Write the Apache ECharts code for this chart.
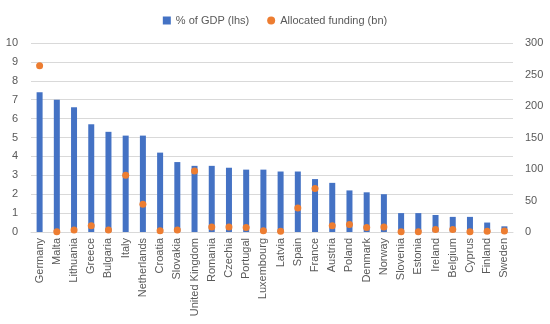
<!DOCTYPE html>
<html><head><meta charset="utf-8">
<script src="https://cdn.jsdelivr.net/npm/echarts@6/dist/echarts.min.js"></script>
<style>html,body{margin:0;padding:0;background:#fff}#c{width:550px;height:324px}</style>
</head><body><div id="c"></div>
<script>
const countries = ["Germany","Malta","Lithuania","Greece","Bulgaria","Italy","Netherlands","Croatia","Slovakia","United Kingdom","Romania","Czechia","Portugal","Luxembourg","Latvia","Spain","France","Austria","Poland","Denmark","Norway","Slovenia","Estonia","Ireland","Belgium","Cyprus","Finland","Sweden"];
const gdpShare = [7.4,7.0,6.6,5.7,5.3,5.1,5.1,4.2,3.7,3.5,3.5,3.4,3.3,3.3,3.2,3.2,2.8,2.6,2.2,2.1,2.0,1.0,1.0,0.9,0.8,0.8,0.5,0.3];
const funding = [264,0.5,3,10,3,90,44,2,3,97,8,8,7,2,1,38,69,10,12,7,8,0.5,0.5,4,4,0.5,1,1.5];
const leftTicks = {min:0,max:10,interval:1};
const rightTicks = {min:0,max:300,interval:50};

const txt = '#595959';
const font = 'Liberation Sans';
const chart = echarts.init(document.getElementById('c'));
chart.setOption({
  animation:false,
  textStyle:{fontFamily:font},
  legend:{top:10,left:'center',itemWidth:8,itemHeight:8,itemGap:18,
    textStyle:{color:txt,fontSize:11,fontFamily:font},
    data:[{name:'% of GDP (lhs)',icon:'rect'},{name:'Allocated funding (bn)',icon:'circle'}]},
  grid:{left:31,right:37,top:43,bottom:92,containLabel:false},
  xAxis:{type:'category',data:countries,
    axisLine:{lineStyle:{color:'#d9d9d9'}},axisTick:{show:false},
    axisLabel:{rotate:90,color:txt,fontSize:11,fontFamily:font,interval:0,margin:6}},
  yAxis:[
    {type:'value',min:leftTicks.min,max:leftTicks.max,interval:leftTicks.interval,
     axisLabel:{color:txt,fontSize:11,fontFamily:font,margin:13,align:'right'},
     splitLine:{lineStyle:{color:'#d9d9d9'}},axisLine:{show:false},axisTick:{show:false}},
    {type:'value',min:rightTicks.min,max:rightTicks.max,interval:rightTicks.interval,
     axisLabel:{color:txt,fontSize:11,fontFamily:font,margin:12},
     splitLine:{show:false},axisLine:{show:false},axisTick:{show:false}}
  ],
  series:[
    {name:'% of GDP (lhs)',type:'bar',data:gdpShare,barWidth:6,
     itemStyle:{color:'#4472C4'}},
    {name:'Allocated funding (bn)',type:'scatter',yAxisIndex:1,data:funding,symbolSize:7,
     itemStyle:{color:'#ED7D31',opacity:1}}
  ]
});
</script></body></html>
